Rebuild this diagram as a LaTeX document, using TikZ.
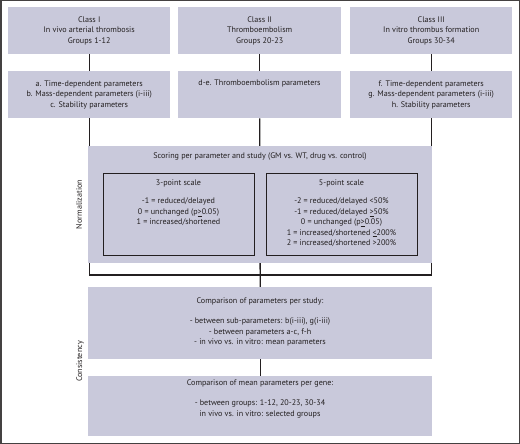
\documentclass[tikz,border=0pt]{standalone}
\usepackage{fontspec}
\setmainfont{PT Sans}
\usetikzlibrary{positioning}
\pgfdeclarelayer{bg}
\pgfsetlayers{bg,main}
\definecolor{boxfill}{RGB}{201,201,219}
\definecolor{ink}{RGB}{35,31,32}
\newcommand{\ulgt}{\underline{>}}
\newcommand{\ullt}{\underline{<}}
\begin{document}
\begin{tikzpicture}[x=1pt,y=-1pt,
  box/.style={fill=boxfill,draw=none,inner sep=0pt,anchor=north west},
  scalebox/.style={draw=ink,line width=1.1pt,inner sep=0pt,anchor=north west},
  txt/.style={font=\fontsize{8.1}{10.4}\selectfont,text=ink,align=center,inner sep=0pt},
  conn/.style={draw=ink,line width=1.3pt},
  side/.style={font=\fontsize{8.1}{10}\selectfont,text=ink,rotate=90,inner sep=0pt}
]
\useasboundingbox (0,0) rectangle (520,444);
\draw[draw=ink!85,line width=1.5pt] (0.75,0.75) rectangle (519.25,443.25);

% top row
\node[box,minimum width=162pt,minimum height=47pt] (c1) at (8,7) {};
\node[box,minimum width=163pt,minimum height=47pt] (c2) at (178,7) {};
\node[box,minimum width=162pt,minimum height=47pt] (c3) at (350,7) {};
\node[txt] (c1t) at (c1.center) {Class I\\In vivo arterial thrombosis\\Groups 1-12};
\node[txt] (c2t) at (c2.center) {Class II\\Thromboembolism\\Groups 20-23};
\node[txt] (c3t) at (c3.center) {Class III\\In vitro thrombus formation\\Groups 30-34};

% second row
\node[box,minimum width=162pt,minimum height=47pt] (p1) at (8,71) {};
\node[box,minimum width=163pt,minimum height=47pt] (p2) at (178,71) {};
\node[box,minimum width=162pt,minimum height=47pt] (p3) at (350,71) {};
\node[txt] (p1t) at (p1.center) {a. Time-dependent parameters\\b. Mass-dependent parameters (i-iii)\\c. Stability parameters};
\node[txt] (p2t) at (259.5,83) {d-e. Thromboembolism parameters};
\node[txt] (p3t) at (p3.center) {f. Time-dependent parameters\\g. Mass-dependent parameters (i-iii)\\h. Stability parameters};

% normalization
\node[box,minimum width=344pt,minimum height=117pt] (norm) at (88,146) {};
\node[txt] (normt) at (260,157) {Scoring per parameter and study (GM vs. WT, drug vs. control)};
\node[scalebox,minimum width=151pt,minimum height=82pt] (s3) at (103,173) {};
\node[scalebox,minimum width=151pt,minimum height=82pt] (s5) at (266,173) {};
\node[txt] (s3h) at (178.5,183) {3-point scale};
\node[txt,anchor=north] (s3t) at (178.5,198) {-1 = reduced/delayed\\0 = unchanged (p\ulgt0.05)\\1 = increased/shortened};
\node[txt] (s5h) at (341.5,183) {5-point scale};
\node[txt,anchor=north] (s5t) at (341.5,198) {-2 = reduced/delayed <50\%\\-1 = reduced/delayed \ulgt50\%\\0 = unchanged (p\ulgt0.05)\\1 = increased/shortened \ullt200\%\\2 = increased/shortened >200\%};
\node[side] (normlab) at (79,204.5) {Normalization};

% consistency
\node[box,minimum width=344pt,minimum height=72pt] (k1) at (88,287) {};
\node[box,minimum width=344pt,minimum height=60pt] (k2) at (88,376) {};
\node[txt,anchor=north] (k1t) at (260,298) {Comparison of parameters per study:\\[9.6pt]- between sub-parameters: b(i-iii), g(i-iii)\\- between parameters a-c, f-h\\- in vivo vs. in vitro: mean parameters};
\node[txt,anchor=north] (k2t) at (260,380) {Comparison of mean parameters per gene:\\[9.6pt]- between groups: 1-12, 20-23, 30-34\\in vivo vs. in vitro: selected groups};
\node[side] (conslab) at (80,361.5) {Consistency};

\coordinate (brk) at (260,275);

\begin{pgfonlayer}{bg}
\draw[conn] (c1.south) -- (p1.north);
\draw[conn] (c2.south) -- (p2.north);
\draw[conn] (c3.south) -- (p3.north);
\draw[conn] (p1.south) -- (p1.south |- brk) -- (p3.south |- brk) -- (p3.south);
\draw[conn] (p2.south) -- (k1.north);
\draw[conn] (k1.south) -- (k2.north);
\end{pgfonlayer}
\end{tikzpicture}
\end{document}
